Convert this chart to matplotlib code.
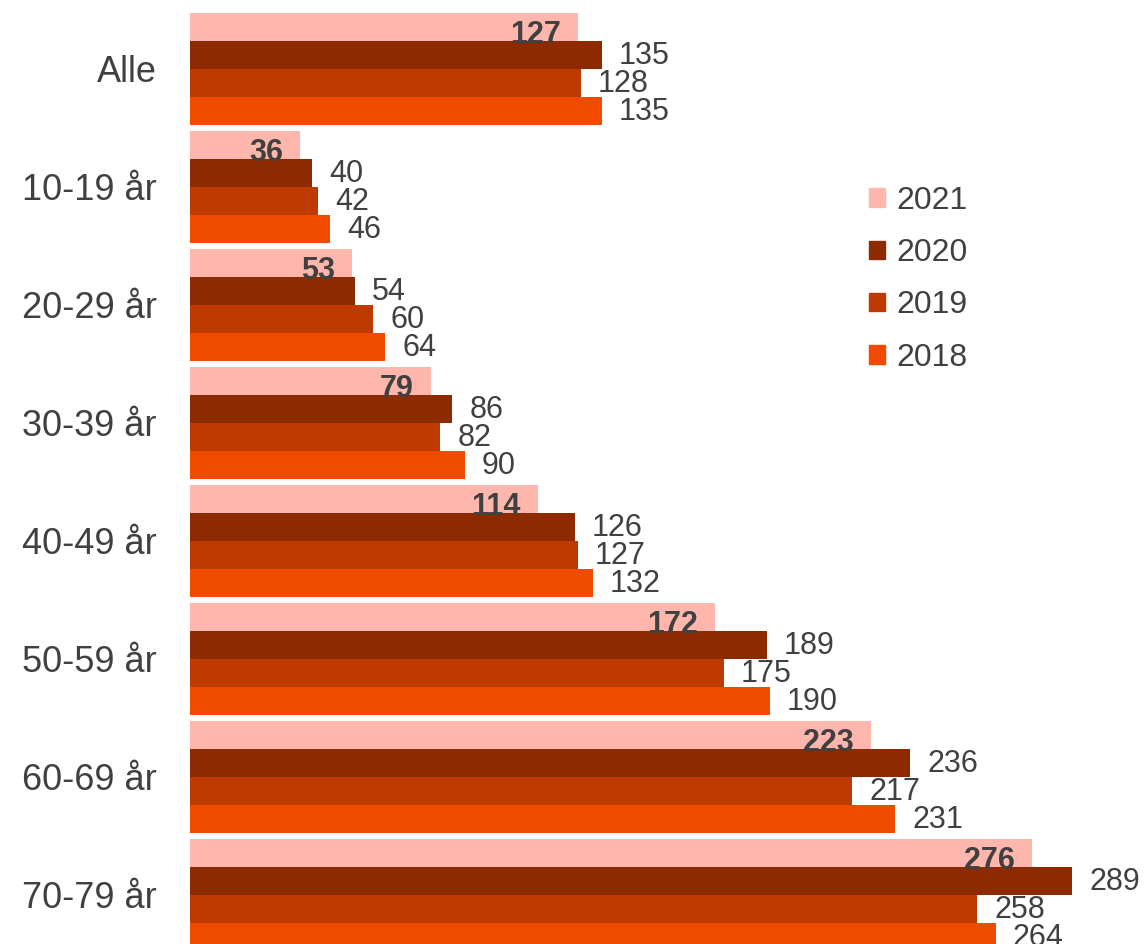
import matplotlib.pyplot as plt
import numpy as np
from matplotlib.patches import Patch

plt.rcParams['font.family'] = ['Liberation Sans', 'DejaVu Sans']

categories = ['Alle', '10-19 år', '20-29 år', '30-39 år', '40-49 år', '50-59 år', '60-69 år', '70-79 år']
years = ['2021', '2020', '2019', '2018']
v2021 = [127, 36, 53, 79, 114, 172, 223, 276]
v2020 = [135, 40, 54, 86, 126, 189, 236, 289]
v2019 = [128, 42, 60, 82, 127, 175, 217, 258]
v2018 = [135, 46, 64, 90, 132, 190, 231, 264]

colors = ['#FFB6AD', '#8E2A00', '#BE3A00', '#F04A00']
text_col = '#404040'

fig = plt.figure(figsize=(11.45, 9.44), dpi=100)
ax = fig.add_axes([190 / 1145, 0, 955 / 1145, 1])

y = np.arange(len(categories))
h = 28 / 118
series = [v2021, v2020, v2019, v2018]
for i, (vals, col, yr) in enumerate(zip(series, colors, years)):
    pos = y + (i - 1.5) * h
    ax.barh(pos, vals, height=h, color=col, label=yr)
    for p, v in zip(pos, vals):
        if i == 0:
            ax.annotate(str(v), (v, p), xytext=(-17, -8), textcoords='offset pixels',
                        ha='right', va='center', fontsize=22, fontweight='bold', color=text_col)
        else:
            ax.annotate(str(v), (v, p), xytext=(17, -1), textcoords='offset pixels',
                        ha='left', va='center', fontsize=22, color=text_col)

ax.set_xlim(0, 955 / 3.052)
ax.set_ylim((944 - 69) / 118, -69 / 118)
ax.set_yticks(y)
ax.set_yticklabels(categories, fontsize=26, color=text_col)
ax.tick_params(axis='y', length=0, pad=24)
ax.set_xticks([])
for s in ax.spines.values():
    s.set_visible(False)

handles = [Patch(color=c) for c in colors]
leg = fig.legend(handles, years, loc='upper left', bbox_to_anchor=(840 / 1145, 1 - 157 / 944),
                 frameon=False, fontsize=23, handlelength=0.5, handleheight=0.5,
                 handletextpad=0.35, labelspacing=0.7)
for t in leg.get_texts():
    t.set_color(text_col)

fig.savefig('out.png', dpi=100)
